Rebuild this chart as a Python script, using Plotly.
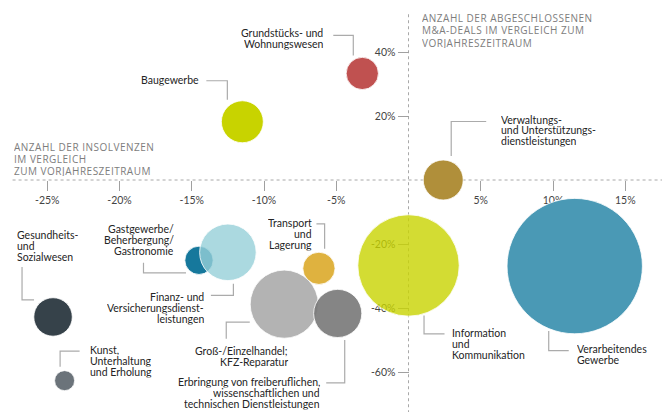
import plotly.graph_objects as go

# Daten: Veränderung ggü. Vorjahreszeitraum in %
branchen = [
    "Grundstücks- und Wohnungswesen",
    "Baugewerbe",
    "Verwaltungs- und Unterstützungsdienstleistungen",
    "Gesundheits- und Sozialwesen",
    "Kunst, Unterhaltung und Erholung",
    "Gastgewerbe/Beherbergung/Gastronomie",
    "Finanz- und Versicherungsdienstleistungen",
    "Transport und Lagerung",
    "Groß-/Einzelhandel; KFZ-Reparatur",
    "Erbringung von freiberuflichen, wissenschaftlichen und technischen Dienstleistungen",
    "Information und Kommunikation",
    "Verarbeitendes Gewerbe",
]
insolvenzen = [-3.2, -11.5, 2.4, -24.6, -23.8, -14.5, -12.5, -6.2, -8.6, -4.9, 0.0, 11.5]
ma_deals = [33.3, 18.2, 0.0, -42.8, -62.7, -25.1, -22.6, -27.6, -38.8, -41.7, -26.7, -26.9]
volumen = [26, 44, 40, 37, 10, 20, 80, 26, 116, 58, 257, 458]

x_ticks = [-25, -20, -15, -10, -5, 5, 10, 15]
y_ticks = [-60, -40, -20, 20, 40]

farben = [
    "#c05150", "#c8d300", "#b08f3a", "#36424a", "#6b737a", "#16789c",
    "rgba(150,208,216,0.8)", "#dfb23f", "#b3b3b3", "rgba(120,120,120,0.9)",
    "rgba(200,211,0,0.8)", "#4a99b5",
]

# Beschriftungen: Zeilen, Ausrichtung, Textversatz (px) und Führungslinie (px) relativ zum Kreismittelpunkt
beschriftung = [
    (["Grundstücks- und", "Wohnungswesen"], "right", -38, 40, [(-29, 38), (-9, 38), (-9, 18)]),
    (["Baugewerbe"], "right", -42, 41, [(-36, 41), (-15, 41), (-15, 22)]),
    (["Verwaltungs-", "und Unterstützungs-", "dienstleistungen"], "left", 57, 60, [(8, 24), (8, 58.5), (43, 58.5)]),
    (["Gesundheits-", "und", "Sozialwesen"], "left", -37, 81, [(-31, 50), (-31, 17), (-19, 17)]),
    (["Kunst,", "Unterhaltung", "und Erholung"], "left", 24, 30, [(15, 29.5), (-4.5, 29.5), (-4.5, 14)]),
    (["Gastgewerbe/", "Beherbergung/", "Gastronomie"], "right", -24, 31, [(-55.5, -2.5), (-55.5, -12.5), (-13, -12.5)]),
    (["Finanz- und", "Versicherungsdienst-", "leistungen"], "right", -23, -45, [(-17, -43), (5.5, -43), (5.5, -31.5)]),
    (["Transport", "und", "Lagerung"], "right", -6, 45, [(-2.5, 44.5), (5.7, 44.5), (5.7, 19.5)]),
    (["Groß-/Einzelhandel;", "KFZ-Reparatur"], "right", 5, -47, [(-58, -34.5), (-58, -18), (-34.5, -18)]),
    (["Erbringung von freiberuflichen,", "wissenschaftlichen und", "technischen Dienstleistungen"], "right", -16.5, -69,
     [(7, -26.5), (7, -69.5), (-11.5, -69.5)]),
    (["Information", "und", "Kommunikation"], "left", 42, -68, [(15.5, -50), (15.5, -68.5), (36, -68.5)]),
    (["Verarbeitendes", "Gewerbe"], "left", 1, -83.5, [(-26, -65), (-26, -84.5), (-6, -84.5)]),
]

x_range = [-28.27, 17.54]
y_range = [-72.5, 56.25]
zeile = 10.9
text_font = dict(family="Lato", size=10.5, color="#242424")
titel_font = dict(family="Open Sans", size=10, color="#7d7d7d")
sperrung = '<span style="letter-spacing:0.5px">{}</span>'

fig = go.Figure(
    go.Scatter(
        x=insolvenzen,
        y=ma_deals,
        mode="markers",
        text=branchen,
        hoverinfo="text",
        marker=dict(
            size=volumen,
            sizemode="area",
            sizeref=0.05,
            opacity=1,
            color=farben,
            line=dict(color="rgba(255,255,255,0.8)", width=1),
        ),
    )
)

# Gepunktete Achsenlinien durch den Nullpunkt
fig.add_shape(type="line", xref="x", yref="y", x0=-27.4, x1=x_range[1], y0=0, y1=0,
              line=dict(color="#a8a8a8", width=1, dash="dot"), layer="below")
fig.add_shape(type="line", xref="x", yref="y", x0=0, x1=0, y0=51.8, y1=y_range[0],
              line=dict(color="#a8a8a8", width=1, dash="dot"), layer="below")

# Beschriftungen mit Führungslinien (eine Annotation pro Zeile, enger Zeilenabstand)
for xi, yi, (zeilen, seite, tx, ty, pfad) in zip(insolvenzen, ma_deals, beschriftung):
    path = "M " + " L ".join(f"{px} {py}" for px, py in pfad)
    fig.add_shape(type="path", path=path, xref="x", yref="y", xsizemode="pixel", ysizemode="pixel",
                  xanchor=xi, yanchor=yi, line=dict(color="#ababab", width=1.2), layer="below")
    for i, z in enumerate(zeilen):
        fig.add_annotation(x=xi, y=yi, xref="x", yref="y", text=z, showarrow=False,
                           xanchor=seite, yanchor="middle", align=seite, height=10.5, borderpad=0,
                           xshift=tx, yshift=ty - i * zeile, font=text_font)

# Achsentitel
for i, z in enumerate(["ANZAHL DER INSOLVENZEN", "IM VERGLEICH", "ZUM VORJAHRESZEITRAUM"]):
    fig.add_annotation(x=13 / 662, y=0, xref="paper", yref="y", text=sperrung.format(z), showarrow=False,
                       xanchor="left", yanchor="middle", height=11, borderpad=0,
                       yshift=33.5 - i * 11.8, font=titel_font)
for i, z in enumerate(["ANZAHL DER ABGESCHLOSSENEN", "M&A-DEALS IM VERGLEICH ZUM", "VORJAHRESZEITRAUM"]):
    fig.add_annotation(x=0, y=40, xref="x", yref="y", text=sperrung.format(z), showarrow=False,
                       xanchor="left", yanchor="middle", height=11, borderpad=0,
                       xshift=12, yshift=34.5 - i * 12.4, font=titel_font)

x_pos = (0 - x_range[0]) / (x_range[1] - x_range[0])
y_pos = (0 - y_range[0]) / (y_range[1] - y_range[0])

fig.update_layout(
    width=662,
    height=412,
    margin=dict(l=0, r=0, t=0, b=0),
    paper_bgcolor="white",
    plot_bgcolor="white",
    showlegend=False,
    xaxis=dict(
        range=x_range,
        tickvals=x_ticks,
        ticktext=[f"{v}%" for v in x_ticks],
        showgrid=False, zeroline=False, showline=False,
        ticks="outside", ticklen=10, tickwidth=1.3, tickcolor="#a0a0a0",
        anchor="free", position=y_pos, side="bottom",
        tickfont=dict(family="Lato", size=10.5, color="#444444"),
        layer="below traces",
    ),
    yaxis=dict(
        range=y_range,
        tickvals=y_ticks,
        ticktext=[f"{v}%" for v in y_ticks],
        showgrid=False, zeroline=False, showline=False,
        ticks="outside", ticklen=11, tickwidth=1.3, tickcolor="#a0a0a0",
        anchor="free", position=x_pos, side="left",
        tickfont=dict(family="Lato", size=10.5, color="#444444"),
        layer="below traces",
    ),
)

# Standard-Seitenrand des Browsers entfernen, damit die Grafik bündig bei 0/0 liegt
fig.write_html("out.html", config={"displayModeBar": False},
               post_script="document.body.style.margin='0';")
